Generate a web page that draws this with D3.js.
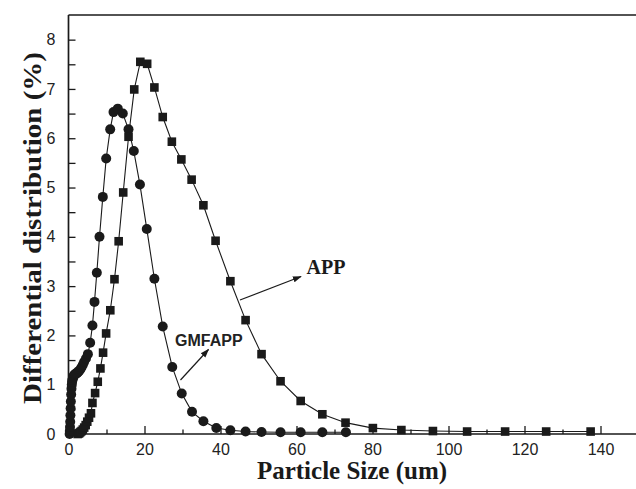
<!DOCTYPE html>
<html><head><meta charset="utf-8">
<script src="https://cdn.jsdelivr.net/npm/d3@7/dist/d3.min.js"></script>
<style>body{margin:0;background:#fff}svg{display:block}</style>
</head><body>
<svg id="c" width="636" height="489"></svg>
<script>
// APP (squares)
const appSize = [2.4,2.64,2.88,3.15,3.45,3.77,4.13,4.52,4.94,5.4,5.91,6.3,7.0,7.7,8.4,9.1,9.9,11.0,12.1,13.2,14.4,15.8,17.3,18.9,20.7,22.6,24.8,27.2,29.7,32.4,35.5,38.7,42.6,46.6,50.8,55.8,61.1,66.8,72.9,80.1,87.6,95.9,104.9,114.9,125.7,137.4];
const appValue = [0.0,0.01,0.02,0.04,0.06,0.09,0.13,0.18,0.25,0.33,0.42,0.63,0.83,1.06,1.33,1.65,2.04,2.51,3.14,3.91,4.90,6.03,6.99,7.55,7.51,7.03,6.43,5.93,5.57,5.16,4.64,3.92,3.10,2.31,1.62,1.07,0.67,0.40,0.23,0.12,0.08,0.06,0.05,0.05,0.05,0.05];
// GMFAPP (circles)
const gmfSize = [0.3,0.35,0.4,0.45,0.5,0.56,0.62,0.7,0.78,0.86,0.95,1.05,1.16,1.28,1.42,1.56,1.72,1.9,2.1,2.3,2.55,2.8,3.1,3.4,3.75,4.1,4.6,5.1,5.7,6.3,6.84,7.45,8.16,9.03,9.92,10.97,11.84,12.97,14.29,15.79,17.18,18.8,20.6,22.6,24.8,27.3,29.8,32.5,35.5,38.9,42.6,46.6,50.8,55.8,61.1,66.8,73.0];
const gmfValue = [0.0,0.06,0.14,0.25,0.38,0.52,0.66,0.8,0.92,1.0,1.06,1.1,1.13,1.16,1.18,1.2,1.21,1.22,1.23,1.24,1.26,1.28,1.31,1.35,1.4,1.46,1.53,1.62,1.85,2.2,2.68,3.27,4.0,4.81,5.59,6.18,6.53,6.60,6.50,6.18,5.74,5.06,4.16,3.15,2.18,1.36,0.82,0.45,0.26,0.12,0.075,0.05,0.04,0.035,0.035,0.035,0.035];

const xMajor = [0,20,40,60,80,100,120,140];
const xMinor = [10,30,50,70,90,110,130,150];
const yMajor = [0,1,2,3,4,5,6,7,8];
const yMinor = [0.5,1.5,2.5,3.5,4.5,5.5,6.5,7.5];

const xTitle = "Particle Size (um)";
const yTitle = "Differential distribution (%)";

const svg = d3.select("#c");
const x = d3.scaleLinear().domain([0,150]).range([68.5,638.5]);
const y = d3.scaleLinear().domain([0,8.5]).range([434,15]);
const ink = "#1a1a1a";

// defs arrow
svg.append("defs").append("marker").attr("id","ah").attr("viewBox","0 0 10 10")
  .attr("refX",9).attr("refY",5).attr("markerWidth",9).attr("markerHeight",9)
  .attr("markerUnits","userSpaceOnUse").attr("orient","auto")
  .append("path").attr("d","M0,1.5 L10,5 L0,8.5 Z").attr("fill",ink);

// x axis
const gx = svg.append("g").attr("transform","translate(0,434)");
gx.call(d3.axisBottom(x).tickValues(xMajor).tickSize(-8).tickSizeOuter(0).tickPadding(10).tickFormat(d3.format("d")));
gx.select(".domain").attr("d","M"+x.range()[0]+",0H636").attr("stroke",ink).attr("stroke-width",1.7);
gx.selectAll(".tick line").attr("stroke",ink).attr("stroke-width",1.3);
gx.selectAll(".tick text").attr("font-family","'Liberation Sans',Arial,sans-serif").attr("font-size",16).attr("fill","#222");
const gx2 = svg.append("g").attr("transform","translate(0,434)");
gx2.call(d3.axisBottom(x).tickValues(xMinor).tickSize(-4.5).tickSizeOuter(0).tickFormat(""));
gx2.select(".domain").remove();
gx2.selectAll(".tick line").attr("stroke",ink).attr("stroke-width",1.3);

// y axis
const gy = svg.append("g").attr("transform","translate(68.5,0)");
gy.call(d3.axisLeft(y).tickValues(yMajor).tickSize(-7).tickSizeOuter(0).tickPadding(13).tickFormat(d3.format("d")));
gy.select(".domain").attr("d","M0,434V15").attr("stroke",ink).attr("stroke-width",1.7);
gy.selectAll(".tick line").attr("stroke",ink).attr("stroke-width",1.3);
gy.selectAll(".tick text").attr("font-family","'Liberation Sans',Arial,sans-serif").attr("font-size",16).attr("fill","#222");
const gy2 = svg.append("g").attr("transform","translate(68.5,0)");
gy2.call(d3.axisLeft(y).tickValues(yMinor).tickSize(-7).tickSizeOuter(0).tickFormat(""));
gy2.select(".domain").remove();
gy2.selectAll(".tick line").attr("stroke",ink).attr("stroke-width",1.3);

// top frame
svg.append("line").attr("x1",x(0)).attr("x2",636).attr("y1",y(8.5)).attr("y2",y(8.5))
  .attr("stroke",ink).attr("stroke-width",1.7);

// titles
svg.append("text").attr("x",352).attr("y",479).attr("text-anchor","middle")
  .attr("font-family","'Liberation Serif','Times New Roman',serif").attr("font-weight","bold")
  .attr("font-size",25).attr("fill",ink).text(xTitle);
svg.append("text").attr("transform","translate(41,228) rotate(-90)").attr("text-anchor","middle")
  .attr("font-family","'Liberation Serif','Times New Roman',serif").attr("font-weight","bold")
  .attr("font-size",26).attr("textLength",352).attr("lengthAdjust","spacingAndGlyphs")
  .attr("fill",ink).text(yTitle);

// lines
const line = d3.line().x(d=>x(d[0])).y(d=>y(d[1]));
const gmf = gmfSize.map((s,i)=>[s,gmfValue[i]]);
const app = appSize.map((s,i)=>[s,appValue[i]]);
svg.append("path").datum(gmf).attr("d",line).attr("fill","none").attr("stroke",ink).attr("stroke-width",1.1);
svg.append("path").datum(app).attr("d",line).attr("fill","none").attr("stroke",ink).attr("stroke-width",1.1);

svg.append("g").selectAll("circle").data(gmf).join("circle")
  .attr("cx",d=>x(d[0])).attr("cy",d=>y(d[1])).attr("r",5).attr("fill",ink);
svg.append("g").selectAll("rect").data(app).join("rect")
  .attr("x",d=>x(d[0])-4.3).attr("y",d=>y(d[1])-4.3).attr("width",8.6).attr("height",8.6).attr("fill",ink);

// annotations
svg.append("line").attr("x1",240).attr("y1",300).attr("x2",301).attr("y2",276.5)
  .attr("stroke",ink).attr("stroke-width",1.2).attr("marker-end","url(#ah)");
svg.append("text").attr("x",306.5).attr("y",274).attr("font-family","'Liberation Serif','Times New Roman',serif")
  .attr("font-weight","bold").attr("font-size",20).attr("fill",ink).text("APP");
svg.append("line").attr("x1",180.5).attr("y1",380).attr("x2",208.5).attr("y2",349.5)
  .attr("stroke",ink).attr("stroke-width",1.2).attr("marker-end","url(#ah)");
svg.append("text").attr("x",175).attr("y",345.7).attr("font-family","'Liberation Sans',Arial,sans-serif")
  .attr("font-weight","bold").attr("font-size",16).attr("fill","#222").text("GMFAPP");
</script>
</body></html>
